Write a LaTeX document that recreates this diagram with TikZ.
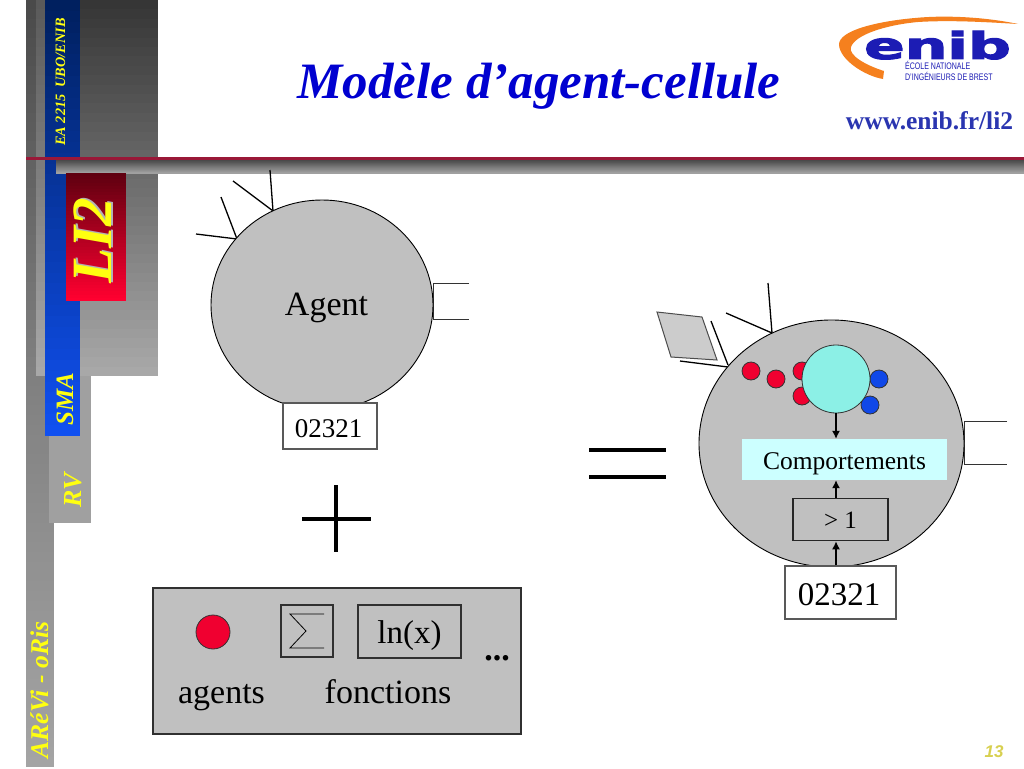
\documentclass[tikz,border=0pt]{standalone}
\usepackage{fontspec}
\setmainfont{Liberation Serif}
\newfontfamily\lsans{Liberation Sans}
\newfontfamily\logof[UprightFont=* Bold,FakeBold=2.5]{DejaVu Sans}
\usetikzlibrary{shapes.geometric,arrows.meta}
\newcommand{\fsz}[1]{\fontsize{#1}{#1}\selectfont}
\definecolor{cellgray}{HTML}{C0C0C0}
\definecolor{edgegray}{HTML}{303030}
\definecolor{navy}{HTML}{0000D0}
\definecolor{urlblue}{HTML}{2A35B0}
\definecolor{logoblue}{HTML}{1C1CB4}
\definecolor{logoorange}{HTML}{F5801E}
\definecolor{agentred}{HTML}{F00030}
\definecolor{agentblue}{HTML}{1048E8}
\definecolor{cyanball}{HTML}{8CF0E6}
\definecolor{cyanbox}{HTML}{CCFFFF}
\definecolor{sideyellow}{HTML}{FFFF10}
\definecolor{pagenum}{HTML}{D8D050}
\definecolor{ruleline}{HTML}{9A1838}
\definecolor{gA}{HTML}{4A4A4A}\definecolor{gB}{HTML}{808080}
\definecolor{gC}{HTML}{5A5A5A}\definecolor{gD}{HTML}{A8A8A8}
\definecolor{gE}{HTML}{363636}
\definecolor{gF}{HTML}{A4A4A4}
\definecolor{gG}{HTML}{404040}\definecolor{gH}{HTML}{A0A0A0}
\definecolor{blT}{HTML}{00205F}\definecolor{blB}{HTML}{1050F0}
\definecolor{rdT}{HTML}{600010}\definecolor{rdB}{HTML}{FF0030}
% vertical colour ramp in 40 overlapping bands
\newcommand{\vramp}[6]{%
  \foreach \k in {0,...,39}{%
    \pgfmathsetmacro\pct{\k*2.5641}%
    \pgfmathsetmacro\ytop{#3+(#4-#3)/40*\k}%
    \fill[color={#6!\pct!#5}] (#1,\ytop) rectangle (#2,#4);}}
\tikzset{
  x=1pt,y=-1pt,
  cellbody/.style={draw=black,line width=0.9pt,fill=cellgray,ellipse,inner sep=0pt},
  valuebox/.style={draw=edgegray!80,line width=1.2pt,fill=white,rectangle,inner sep=0pt,text=black,text depth=0pt},
  toolbox/.style={draw=edgegray,line width=1.2pt,rectangle,inner sep=0pt,text=black,text depth=0pt},
  ball/.style={draw=black!80,line width=0.8pt,circle,inner sep=0pt,minimum size=#1},
  wire/.style={draw=black,line width=1.3pt},
  thinwire/.style={draw=black!80,line width=0.9pt},
  heavy/.style={draw=black,line width=3.2pt},
  flow/.style={draw=black,line width=1.2pt,-{Latex[length=8pt,width=8pt]}},
  label/.style={text=black,inner sep=0pt,anchor=base},
  sidetext/.style={text=sideyellow,inner sep=0pt,anchor=base,rotate=90,font=\bfseries\itshape},
}
\begin{document}
\begin{tikzpicture}
\useasboundingbox (0,0) rectangle (1024,768);
\fill[white] (0,0) rectangle (1024,768);
% ---- side bar
\vramp{26}{36}{0}{376}{gA}{gB}
\vramp{36}{45}{0}{376}{gC}{gD}
\vramp{80}{158}{0}{376}{gE}{gD}
\vramp{26}{54}{376}{767}{gB}{gF}
\fill[gH] (49,376) rectangle (91,523);
\vramp{45}{80}{0}{436}{blT}{blB}
\vramp{56}{1024}{159}{173}{gG}{gH}
\fill[ruleline] (26,157) rectangle (1024,159.5);
\vramp{66}{126}{173}{301}{rdT}{rdB}
\node[sidetext,font=\fsz{14.3}\bfseries\itshape] (lab) at (65,82) {EA 2215\ \ UBO/ENIB};
\node[sidetext,font=\fsz{25}\bfseries\itshape] (sma) at (73,399) {SMA};
\node[sidetext,font=\fsz{26}\bfseries\itshape] (rv) at (81,490) {RV};
\node[sidetext,font=\fsz{25.6}\bfseries\itshape] (arevi) at (48,690) {ARéVi - oRis};
\node[sidetext,text=black!30,font=\fsz{57}\bfseries\itshape] (lishadow) at (113.5,239.5) {LI2};
\node[sidetext,font=\fsz{57}\bfseries\itshape] (li) at (111.5,241) {LI2};
% ---- header
\node[label,text=navy,font=\fsz{51}\bfseries\itshape] (title) at (539,98) {Modèle d’agent-cellule};
\node[label,text=urlblue,font=\fsz{25.5}\bfseries] (url) at (929.5,129) {www.enib.fr/li2};
% ---- logo
\fill[logoorange] (1018,24) .. controls (985,17) and (945,15) .. (915,18)
  .. controls (880,21) and (838,30) .. (839,45)
  .. controls (840,60) and (865,76) .. (883,79)
  -- (884,71) .. controls (868,66) and (848,56) .. (851,47)
  .. controls (855,35) and (885,25) .. (918,22)
  .. controls (950,20) and (985,22) .. (1018,24) -- cycle;
\node[inner sep=0pt,anchor=base,text=logoblue,font=\fsz{37}\logof,xscale=1.62,transform shape] (enib) at (937.5,59) {enib};
\node[inner sep=0pt,anchor=base west,text=logoblue,font=\fsz{9.5}\lsans,xscale=.74,transform shape] (ecole) at (905,70) {ÉCOLE NATIONALE};
\node[inner sep=0pt,anchor=base west,text=logoblue,font=\fsz{9.5}\lsans,xscale=.74,transform shape] (dingen) at (905,81) {D’INGÉNIEURS DE BREST};
% ---- page number
\node[inner sep=0pt,anchor=base,text=pagenum,font=\fsz{17}\lsans\bfseries\itshape] (page) at (994,757) {13};
% ---- agent
\coordinate (la1) at (196,234);
\coordinate (la2) at (221,197);
\coordinate (la3) at (233,181);
\coordinate (la4) at (270,170);
\coordinate (lj1) at (237,239);
\coordinate (lj2) at (273,211);
\coordinate (lo1) at (469,283);
\coordinate (lo2) at (469,319);
\coordinate (lp1) at (433,283);
\coordinate (lp2) at (433,319);
\draw[wire] (la1) -- (lj1);
\draw[wire] (la2) -- (lj1);
\draw[wire] (la3) -- (lj2);
\draw[wire] (la4) -- (lj2);
\draw[thinwire] (lo1) -- (lp1) -- (lp2) -- (lo2);
\node[cellbody,minimum width=222pt,minimum height=210pt] (agent) at (322,305) {};
\node[label,font=\fsz{34}] (agenttxt) at (326.5,315) {Agent};
\node[valuebox,minimum width=94pt,minimum height=46pt,font=\fsz{27},text height=22pt] (idleft) at (330,426) {\hspace*{-3pt}02321};
% ---- plus and equals
\coordinate (pw) at (302,519);
\coordinate (pe) at (371,519);
\coordinate (pn) at (336,485);
\coordinate (ps) at (336,552);
\draw[heavy] (pw) -- (pe);
\draw[heavy] (pn) -- (ps);
\coordinate (e1w) at (589,450);
\coordinate (e1e) at (666,450);
\coordinate (e2w) at (589,477);
\coordinate (e2e) at (666,477);
\draw[heavy,line width=3.6pt] (e1w) -- (e1e);
\draw[heavy,line width=3.6pt] (e2w) -- (e2e);
% ---- toolbox
\node[toolbox,fill=cellgray,minimum width=368pt,minimum height=146pt] (tools) at (337,661) {};
\node[ball=34pt,fill=agentred] (redagent) at (213,632) {};
\node[toolbox,minimum width=52pt,minimum height=52pt] (sumbox) at (307,631) {};
\coordinate (s1) at (324,614);
\coordinate (s2) at (290,614);
\coordinate (s3) at (306,631);
\coordinate (s4) at (290,648);
\coordinate (s5) at (324,648);
\draw[draw=black,line width=0.8pt] (s1) -- (s2) -- (s3) -- (s4) -- (s5);
\node[toolbox,minimum width=103pt,minimum height=53pt,font=\fsz{33},text height=23pt] (lnbox) at (409.5,631.5) {ln(x)};
\node[label,font=\fsz{34}] (agentslab) at (221.5,703) {agents};
\node[label,font=\fsz{34}] (fonclab) at (388,703) {fonctions};
\node[label,font=\fsz{34}\bfseries] (dots) at (497,660) {...};
% ---- cell
\coordinate (ra1) at (768,283);
\coordinate (rj1) at (772,333);
\coordinate (ra2) at (726,313);
\coordinate (ra3) at (711,321);
\coordinate (rj2) at (728,365);
\coordinate (ra4) at (680,361);
\coordinate (rj3) at (728,367);
\coordinate (ro1) at (1007,421.5);
\coordinate (ro2) at (1007,464);
\coordinate (rp1) at (964,421.5);
\coordinate (rp2) at (964,464);
\draw[wire] (ra1) -- (rj1);
\draw[wire] (ra2) -- (rj1);
\draw[wire] (ra3) -- (rj2);
\draw[wire] (ra4) -- (rj3);
\draw[thinwire] (ro1) -- (rp1) -- (rp2) -- (ro2);
\coordinate (q1) at (657,312);
\coordinate (q2) at (702,317);
\coordinate (q3) at (717,360);
\coordinate (q4) at (671,357);
\draw[draw=black!70,line width=1pt,fill=black!20] (q1) -- (q2) -- (q3) -- (q4) -- cycle;
\node[cellbody,minimum width=265pt,minimum height=247pt] (cell) at (831.5,443.5) {};
\node[ball=18pt,fill=agentred] (r1) at (751,371) {};
\node[ball=18pt,fill=agentred] (r2) at (776,379) {};
\node[ball=18pt,fill=agentred] (r3) at (802,371) {};
\node[ball=18pt,fill=agentred] (r4) at (802,396) {};
\node[ball=18pt,fill=agentblue] (b1) at (879,379) {};
\node[ball=18pt,fill=agentblue] (b2) at (870,405) {};
\node[ball=68pt,fill=cyanball] (core) at (836,379) {};
\node[rectangle,fill=cyanbox,inner sep=0pt,minimum width=205pt,minimum height=41pt,text=black,font=\fsz{25.5},text height=19pt,text depth=0pt] (comp) at (844.5,459.5) {Comportements};
\node[toolbox,draw=black!85,minimum width=95pt,minimum height=42.5pt,font=\fsz{25},text height=18pt] (gt) at (840.5,519.5) {> 1};
\node[valuebox,minimum width=111pt,minimum height=53pt,font=\fsz{33},text height=25pt] (idright) at (840.5,592.5) {\hspace*{-3pt}02321};
\draw[flow] (core.south) -- (core.south |- comp.north);
\draw[flow] (core.south |- gt.north) -- (core.south |- comp.south);
\draw[flow] (core.south |- idright.north) -- (core.south |- gt.south);
\end{tikzpicture}
\end{document}
